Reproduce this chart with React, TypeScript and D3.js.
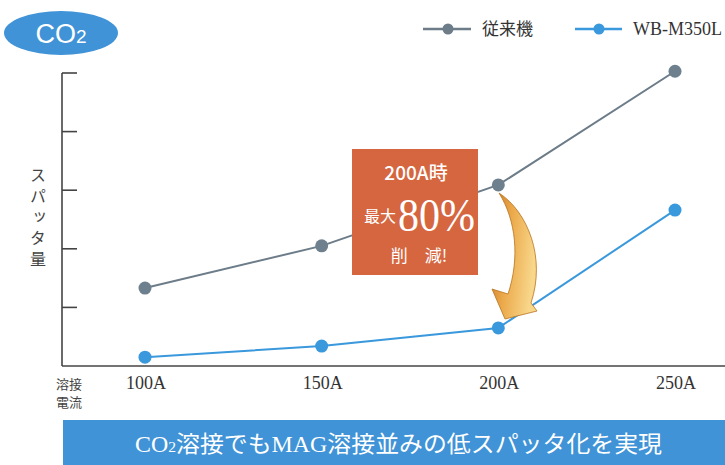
import React from "react";
import * as d3 from "d3";

const currents = [100, 150, 200, 250];
const currentLabels = ["100A", "150A", "200A", "250A"];
const conventional = [1.33, 2.05, 3.09, 5.03];
const wbM350L = [0.15, 0.34, 0.65, 2.66];
const yTicks = [1, 2, 3, 4, 5];
const seriesNames = ["従来機", "WB-M350L"];
const yLabel = "スパッタ量";

const W = 725;
const H = 465;
const GRAY = "#6c7c88";
const BLUE = "#3a98dc";
const SERIF = "'Liberation Serif', 'DejaVu Serif', 'Noto Sans CJK JP', serif";
const SANS = "'Noto Sans CJK JP', 'Liberation Sans', sans-serif";

export default function App() {
  const x = d3.scaleLinear().domain([100, 250]).range([145, 675]);
  const y = d3.scaleLinear().domain([0, 5]).range([366, 73]);
  const line = d3
    .line<number>()
    .x((_, i) => x(currents[i]))
    .y((d) => y(d));

  const axisX = 62;
  const axisBottom = y(0);

  return (
    <svg
      width={W}
      height={H}
      style={{ position: "absolute", left: 0, top: 0, background: "#fff" }}
    >
      <defs>
        <linearGradient id="arrowGrad" x1="0" y1="0" x2="1" y2="0.3">
          <stop offset="0" stopColor="#c9761f" />
          <stop offset="0.45" stopColor="#eba94a" />
          <stop offset="1" stopColor="#f8d68a" />
        </linearGradient>
      </defs>

      {/* CO2 badge */}
      <ellipse cx={61} cy={33} rx={57} ry={22} fill="#3f93d6" />
      <text x={61} y={43} textAnchor="middle" fill="#fff" fontFamily="'Liberation Sans', Arial, sans-serif" fontSize={27}>
        CO<tspan fontSize={19}>2</tspan>
      </text>

      {/* Legend */}
      <g>
        <line x1={423} x2={471} y1={29} y2={29} stroke={GRAY} strokeWidth={2.5} />
        <circle cx={448} cy={29} r={5.5} fill={GRAY} />
        <text x={482} y={35} fontFamily={SERIF} fontSize={17} fill="#333">{seriesNames[0]}</text>
        <line x1={575} x2={622} y1={29} y2={29} stroke={BLUE} strokeWidth={2.5} />
        <circle cx={599} cy={29} r={5.5} fill={BLUE} />
        <text x={633} y={35} fontFamily={SERIF} fontSize={18} fill="#333">{seriesNames[1]}</text>
      </g>

      {/* Axes */}
      <line x1={axisX} x2={axisX} y1={y(5)} y2={axisBottom} stroke="#444" strokeWidth={1.6} />
      <line x1={axisX} x2={W} y1={axisBottom} y2={axisBottom} stroke="#444" strokeWidth={1.6} />
      {yTicks.map((t) => (
        <line key={t} x1={axisX} x2={axisX + 15} y1={y(t)} y2={y(t)} stroke="#444" strokeWidth={1.6} />
      ))}

      {/* Y label (vertical) */}
      <text
        x={38}
        y={167}
        fontFamily={SANS}
        fontSize={16}
        fill="#444"
        style={{ writingMode: "vertical-rl", letterSpacing: "5px" } as any}
      >
        {yLabel}
      </text>

      {/* X labels */}
      {currentLabels.map((l, i) => (
        <text key={l} x={x(currents[i]) + 1} y={389} textAnchor="middle" fontFamily={SERIF} fontSize={18} fill="#333">
          {l}
        </text>
      ))}
      <text x={69} y={389} textAnchor="middle" fontFamily={SANS} fontSize={13} fill="#444">溶接</text>
      <text x={69} y={407} textAnchor="middle" fontFamily={SANS} fontSize={13} fill="#444">電流</text>

      {/* Lines */}
      <path d={line(conventional) || ""} fill="none" stroke={GRAY} strokeWidth={2} />
      <path d={line(wbM350L) || ""} fill="none" stroke={BLUE} strokeWidth={2} />

      {/* Callout box */}
      <rect x={352} y={149} width={126} height={126} fill="#d5663f" />
      <text x={416} y={180} textAnchor="middle" fill="#fff" fontFamily={SANS} fontSize={19} fontWeight={500}>
        200A時
      </text>
      <text x={380} y={222} textAnchor="middle" fill="#fff" fontFamily={SANS} fontSize={16}>
        最大
      </text>
      <text x={398} y={231} fill="#fff" fontFamily={SERIF} fontSize={46} textLength={77} lengthAdjust="spacingAndGlyphs">
        80%
      </text>
      <text x={419} y={262} textAnchor="middle" fill="#fff" fontFamily={SANS} fontSize={17}>
        削　減!
      </text>

      {/* Arrow */}
      <path
        d="M499,193 C528,212 546,258 531,303 L537,311 L505,319 L492,289 L508,294 C520,258 516,220 499,193 Z"
        fill="url(#arrowGrad)"
        stroke="#b8731e"
        strokeWidth={0.8}
      />

      {/* Points */}
      {conventional.map((v, i) => (
        <circle key={"c" + i} cx={x(currents[i])} cy={y(v)} r={6.5} fill="#6e808e" />
      ))}
      {wbM350L.map((v, i) => (
        <circle key={"b" + i} cx={x(currents[i])} cy={y(v)} r={6.5} fill={BLUE} />
      ))}

      {/* Banner */}
      <rect x={63} y={420} width={W - 63} height={H - 420} fill="#3f93d6" />
      <text x={135} y={452} fill="#fff" fontFamily={SERIF} fontSize={23} textLength={527} lengthAdjust="spacingAndGlyphs">
        CO<tspan fontSize={15}>2</tspan>溶接でもMAG溶接並みの低スパッタ化を実現
      </text>
    </svg>
  );
}
